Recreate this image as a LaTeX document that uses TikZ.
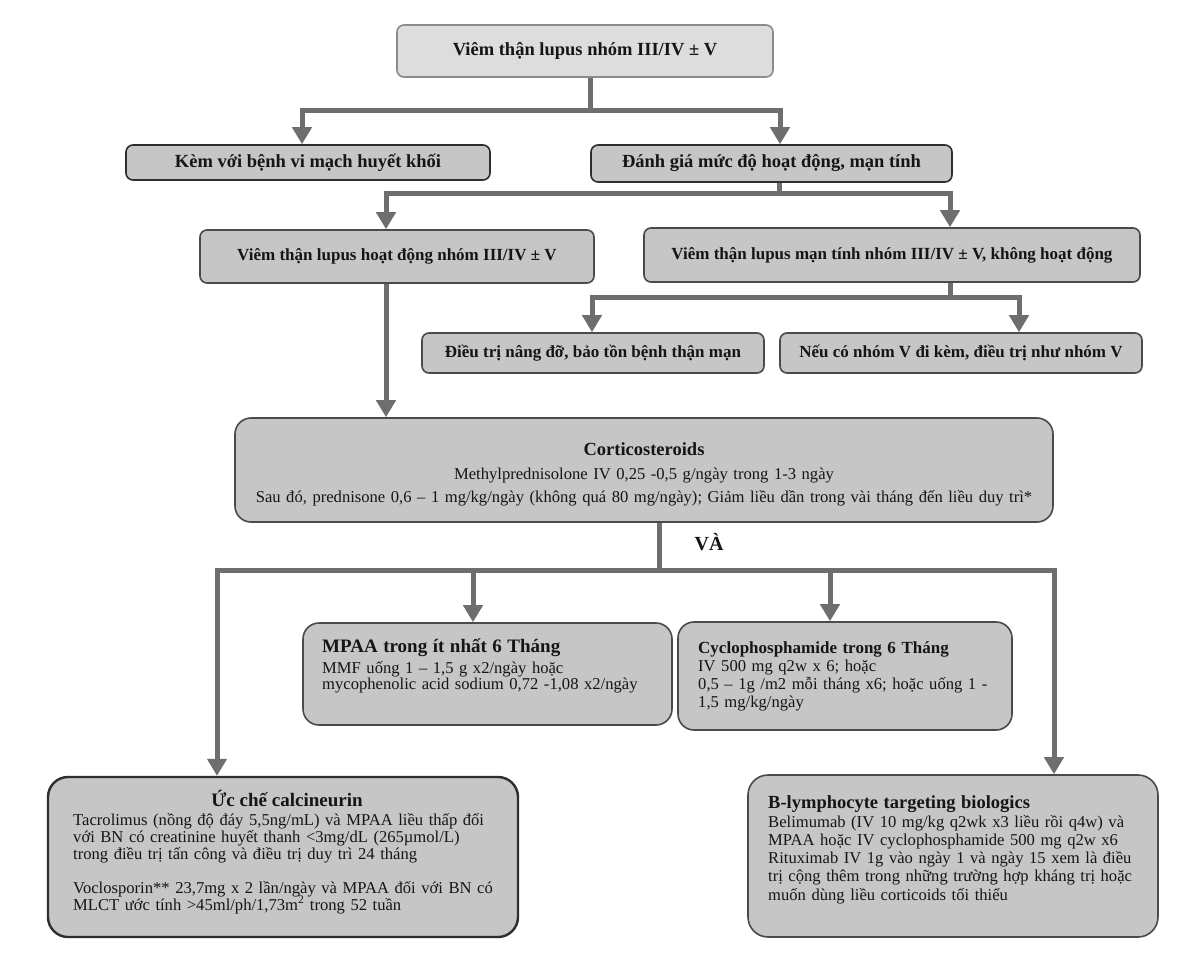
\documentclass[tikz,border=0pt]{standalone}
\usepackage{fontspec}
\setmainfont{Liberation Serif}
\usetikzlibrary{arrows.meta,calc}
\definecolor{conn}{HTML}{6E6E6E}
\definecolor{topfill}{HTML}{DDDDDD}
\definecolor{topline}{HTML}{8A8A8A}
\definecolor{boxfill}{HTML}{C6C6C6}
\definecolor{boxline}{HTML}{4A4A4A}
\definecolor{darkline}{HTML}{2E2E2E}
\definecolor{ink}{HTML}{151515}
\begin{document}
\begin{tikzpicture}[x=1pt,y=-1pt,
  box/.style={draw=boxline, fill=boxfill, line width=1.6pt, rounded corners=7pt, inner sep=0pt, text=ink},
  bigbox/.style={box, rounded corners=16pt},
  ttl/.style={font=\fontsize{18.5}{22}\selectfont\bfseries},
  sttl/.style={font=\fontsize{17}{20}\selectfont\bfseries},
  body/.style={inner sep=0pt, text=ink, align=left, font={\fontsize{16.6}{17}\selectfont\lineskiplimit=-100pt}},
  link/.style={draw=conn, line width=5pt},
  arr/.style={link, -{Triangle[width=19pt,length=17pt]}}
]
\useasboundingbox[fill=white] (0,0) rectangle (1200,975);

% boxes
\node[box, ttl, fill=topfill, draw=topline, minimum width=376pt, minimum height=52pt] (top) at (585,51) {Viêm thận lupus nhóm III/IV ± V};
\node[box, ttl, draw=darkline, minimum width=364pt, minimum height=35pt] (kem) at (308,162.5) {Kèm với bệnh vi mạch huyết khối};
\node[box, ttl, draw=darkline, minimum width=361pt, minimum height=37pt] (danhgia) at (771.5,163.5) {Đánh giá mức độ hoạt động, mạn tính};
\node[box, sttl, minimum width=394pt, minimum height=53pt] (hoatdong) at (397,256.5) {Viêm thận lupus hoạt động nhóm III/IV ± V};
\node[box, sttl, minimum width=496pt, minimum height=54pt] (mantinh) at (892,255) {Viêm thận lupus mạn tính nhóm III/IV ± V, không hoạt động};
\node[box, sttl, minimum width=342pt, minimum height=40pt] (nangdo) at (593,353) {Điều trị nâng đỡ, bảo tồn bệnh thận mạn};
\node[box, sttl, minimum width=362pt, minimum height=40pt] (neuco) at (961,353) {Nếu có nhóm V đi kèm, điều trị như nhóm V};

\node[bigbox, minimum width=818pt, minimum height=104pt] (cortico) at (644,470) {};
\node[body, text width=810pt, align=center, anchor=base] (corticoT) at (644,455)
  {{\fontsize{18.5}{18.5}\selectfont\bfseries Corticosteroids}\\[7pt]
   Methylprednisolone IV 0,25 -0,5 g/ngày trong 1-3 ngày\\[6pt]
   Sau đó, prednisone 0,6 – 1 mg/kg/ngày (không quá 80 mg/ngày); Giảm liều dần trong vài tháng đến liều duy trì*};

\node[bigbox, minimum width=369pt, minimum height=102pt] (mpaa) at (487.5,674) {};
\node[body, text width=345pt, anchor=base west] (mpaaT) at (322,652)
  {{\fontsize{19}{19}\selectfont\bfseries MPAA trong ít nhất 6 Tháng}\\[4pt]
   MMF uống 1 – 1,5 g x2/ngày hoặc\\[-1pt]
   mycophenolic acid sodium 0,72 -1,08 x2/ngày};

\node[bigbox, minimum width=334pt, minimum height=108pt] (cyclo) at (845,676) {};
\node[body, text width=310pt, anchor=base west] (cycloT) at (698,653)
  {{\fontsize{17}{17}\selectfont\bfseries Cyclophosphamide trong 6 Tháng}\\[1pt]
   IV 500 mg q2w x 6; hoặc\\[1pt]
   0,5 – 1g /m2 mỗi tháng x6; hoặc uống 1 -\\[1pt]
   1,5 mg/kg/ngày};

\node[bigbox, draw=darkline, line width=2.4pt, rounded corners=20pt, minimum width=470pt, minimum height=160pt] (ucche) at (283,857) {};
\node[inner sep=0pt, text=ink, font=\fontsize{19}{19}\selectfont\bfseries, anchor=base] (uccheTitle) at (287,806) {Ức chế calcineurin};
\node[body, text width=450pt, anchor=base west] (uccheT) at (73,825)
  {Tacrolimus (nồng độ đáy 5,5ng/mL) và MPAA liều thấp đối\\
   với BN có creatinine huyết thanh <3mg/dL (265µmol/L)\\
   trong điều trị tấn công và điều trị duy trì 24 tháng\\[17pt]
   Voclosporin** 23,7mg x 2 lần/ngày và MPAA đối với BN có\\
   MLCT ước tính >45ml/ph/1,73m\textsuperscript{2} trong 52 tuần};

\node[bigbox, rounded corners=20pt, minimum width=410pt, minimum height=162pt] (blym) at (953,856) {};
\node[body, text width=400pt, anchor=base west] (blymT) at (768,808)
  {{\fontsize{18.5}{18.5}\selectfont\bfseries B-lymphocyte targeting biologics}\\[2pt]
   Belimumab (IV 10 mg/kg q2wk x3 liều rồi q4w) và\\[1.3pt]
   MPAA hoặc IV cyclophosphamide 500 mg q2w x6\\[1.3pt]
   Rituximab IV 1g vào ngày 1 và ngày 15 xem là điều\\[1.3pt]
   trị cộng thêm trong những trường hợp kháng trị hoặc\\[1.3pt]
   muốn dùng liều corticoids tối thiểu};

\node[inner sep=0pt, text=ink, font=\fontsize{20}{20}\selectfont\bfseries] (va) at (709,542) {VÀ};

% junctions
\coordinate (j1) at (590,110);
\coordinate (a1) at (302,110);
\coordinate (a2) at (780,110);
\coordinate (j2) at (779,193);
\coordinate (b1) at (386,193);
\coordinate (b2) at (950,193);
\coordinate (j3) at (950,297);
\coordinate (c1) at (592,297);
\coordinate (c2) at (1019,297);
\coordinate (j4) at (659,570);
\coordinate (d1) at (217,570);
\coordinate (d2) at (473,570);
\coordinate (d3) at (830,570);
\coordinate (d4) at (1054,570);

% connectors
\draw[link] (top.south -| j1) -- (j1);
\draw[arr] (j1) -| (kem.north -| a1);
\draw[arr] (j1) -| (danhgia.north -| a2);

\draw[link] (danhgia.south -| j2) -- (j2);
\draw[arr] (j2) -| (hoatdong.north -| b1);
\draw[arr] (j2) -| (mantinh.north -| b2);

\draw[link] (mantinh.south -| j3) -- (j3);
\draw[arr] (j3) -| (nangdo.north -| c1);
\draw[arr] (j3) -| (neuco.north -| c2);

\draw[arr] (hoatdong.south -| b1) -- (cortico.north -| b1);

\draw[link] (cortico.south -| j4) -- (j4);
\draw[arr] (j4) -| (ucche.north -| d1);
\draw[arr] (j4) -| (mpaa.north -| d2);
\draw[arr] (j4) -| (cyclo.north -| d3);
\draw[arr] (j4) -| (blym.north -| d4);
\end{tikzpicture}
\end{document}
